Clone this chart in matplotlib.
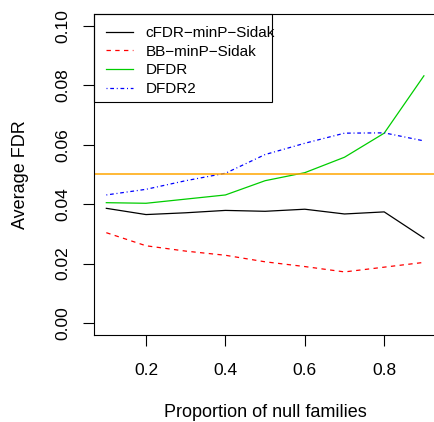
import numpy as np
import matplotlib
matplotlib.use("Agg")
import matplotlib.pyplot as plt
from matplotlib.patches import Rectangle

plt.rcParams['font.family'] = ['Liberation Sans', 'DejaVu Sans']

# proportion of null families
prop_null = [0.1, 0.2, 0.3, 0.4, 0.5, 0.6, 0.7, 0.8, 0.9]

# average FDR per method
cfdr_minp = [0.0386, 0.0365, 0.0371, 0.0379, 0.0376, 0.0383, 0.0367, 0.0374, 0.0286]
bb_minp = [0.0304, 0.0260, 0.0242, 0.0228, 0.0206, 0.0190, 0.0172, 0.0188, 0.0204]
dfdr = [0.0405, 0.0403, 0.0417, 0.0431, 0.0479, 0.0506, 0.0558, 0.0639, 0.0832]
dfdr2 = [0.0431, 0.0450, 0.0479, 0.0504, 0.0567, 0.0605, 0.0639, 0.0640, 0.0613]

alpha = 0.05
labels = ["cFDR\u2212minP\u2212Sidak", "BB\u2212minP\u2212Sidak", "DFDR", "DFDR2"]
yticks = [0.00, 0.02, 0.04, 0.06, 0.08, 0.10]
xticks = [0.2, 0.4, 0.6, 0.8]

fs_tick = 12.5
fs_lab = 13
fs_leg = 11
fig = plt.figure(figsize=(4.34, 4.22), dpi=100)
ax = fig.add_axes([0.2157, 0.2064, 0.7903, 0.7604])

lw = 0.9
ax.plot(prop_null, cfdr_minp, color='black', lw=lw, label=labels[0])
ax.plot(prop_null, bb_minp, color='red', lw=lw, dashes=(3.5, 3.5), label=labels[1])
ax.plot(prop_null, dfdr, color='#00CD00', lw=lw, label=labels[2])
ax.plot(prop_null, dfdr2, color='blue', lw=lw, dashes=(0.8, 2.2, 3, 2.2), label=labels[3])
ax.axhline(alpha, color='orange', lw=1.1)

# R-style 4% padding on both axes
ax.set_xlim(0.1 - 0.032, 0.9 + 0.032)
ax.set_ylim(-0.004, 0.104)

ax.set_xticks(xticks)
ax.set_xticklabels([f"{t:.1f}" for t in xticks])
ax.set_yticks(yticks)
ax.set_yticklabels([f"{t:.2f}" for t in yticks], rotation=90, va='center')
ax.tick_params(direction='out', length=8, width=0.8, labelsize=fs_tick)
ax.tick_params(axis='x', pad=12.5)
ax.tick_params(axis='y', pad=8.5)
for s in ax.spines.values():
    s.set_linewidth(0.8)

ax.set_xlabel("Proportion of null families", fontsize=fs_lab, labelpad=18.5)
ax.set_ylabel("Average FDR", fontsize=fs_lab, labelpad=19.5)

leg = ax.legend(loc='upper left', bbox_to_anchor=(0, 1), borderaxespad=0,
                frameon=False, fontsize=fs_leg, handlelength=1.8,
                handletextpad=0.8, borderpad=0.8, labelspacing=0.3)
# box drawn by hand so the long label can run past it
ax.add_patch(Rectangle((0, 0.7258), 0.52, 0.2742, transform=ax.transAxes,
                       fill=False, edgecolor='black', lw=0.8, clip_on=False))

fig.savefig("out.png", dpi=100)
